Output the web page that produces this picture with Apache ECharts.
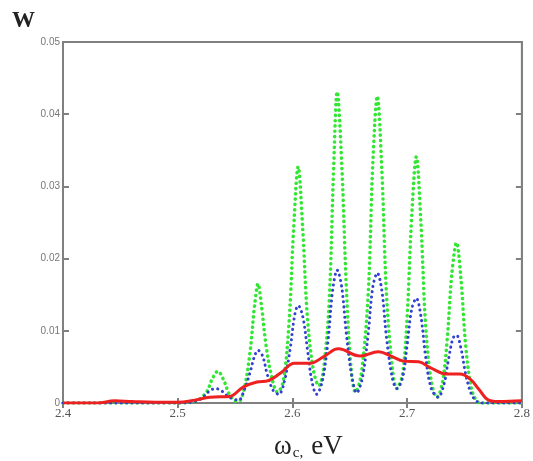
<!DOCTYPE html>
<html>
<head>
    <meta charset="utf-8">
    <title>W(omega)</title>
    <style>
        html, body { margin: 0; padding: 0; background: #fff; }
        #chart { width: 533px; height: 461px; }
    </style>
</head>
<body>
<div id="chart"></div>
<script src="https://cdn.jsdelivr.net/npm/echarts@6/dist/echarts.min.js"></script>
<script>
    // axis ticks
    var xTicks = [2.4, 2.5, 2.6, 2.7, 2.8];
    var yTicks = [0, 0.01, 0.02, 0.03, 0.04, 0.05];

    // green dotted curve
    var greenX = [2.40, 2.50, 2.515, 2.525, 2.530, 2.535, 2.540, 2.545, 2.550, 2.553, 2.558, 2.563, 2.567, 2.570, 2.573, 2.577, 2.582, 2.587,
        2.592, 2.597, 2.601, 2.605, 2.609, 2.613, 2.618, 2.623, 2.627, 2.632, 2.636, 2.639, 2.643, 2.647, 2.651, 2.655,
        2.660, 2.666, 2.670, 2.674, 2.678, 2.682, 2.687, 2.691, 2.696, 2.700, 2.704, 2.708, 2.712, 2.716, 2.721, 2.726,
        2.731, 2.735, 2.739, 2.743, 2.747, 2.751, 2.756, 2.761, 2.765, 2.80];
    var greenW = [0, 0, 0.0002, 0.0015, 0.0033, 0.0044, 0.0032, 0.0012, 0.0003, 0.0002, 0.002, 0.007, 0.0135, 0.0165, 0.0135, 0.008, 0.0035, 0.0015,
        0.003, 0.011, 0.024, 0.0327, 0.024, 0.012, 0.0048, 0.0024, 0.0045, 0.014, 0.033, 0.0431, 0.033, 0.016, 0.005, 0.0015,
        0.004, 0.015, 0.033, 0.0425, 0.032, 0.015, 0.005, 0.002, 0.004, 0.012, 0.026, 0.0341, 0.025, 0.011, 0.003, 0.0008,
        0.003, 0.009, 0.018, 0.0222, 0.017, 0.008, 0.002, 0.0002, 0, 0];

    // blue dotted curve
    var blueX = [2.40, 2.50, 2.515, 2.522, 2.528, 2.533, 2.538, 2.545, 2.553, 2.558, 2.563, 2.567, 2.570, 2.574, 2.578, 2.583, 2.588,
        2.593, 2.598, 2.602, 2.605, 2.609, 2.613, 2.617, 2.621, 2.626, 2.631, 2.635, 2.639, 2.643, 2.647, 2.652, 2.656,
        2.661, 2.666, 2.670, 2.674, 2.678, 2.682, 2.687, 2.691, 2.696, 2.700, 2.704, 2.708, 2.712, 2.716, 2.721, 2.727,
        2.732, 2.736, 2.740, 2.743, 2.747, 2.751, 2.756, 2.761, 2.765, 2.80];
    var blueW = [0, 0, 0.0002, 0.0008, 0.0017, 0.002, 0.0017, 0.0008, 0.0004, 0.0018, 0.0042, 0.0065, 0.0073, 0.0065, 0.004, 0.0018, 0.0012,
        0.003, 0.0075, 0.0122, 0.0135, 0.012, 0.0075, 0.003, 0.0012, 0.003, 0.0085, 0.0155, 0.0184, 0.016, 0.0095, 0.0035, 0.0014,
        0.0035, 0.0095, 0.016, 0.018, 0.0155, 0.009, 0.0035, 0.002, 0.0035, 0.008, 0.013, 0.0145, 0.012, 0.0065, 0.002, 0.0008,
        0.0025, 0.006, 0.009, 0.0094, 0.0075, 0.004, 0.0012, 0.0002, 0, 0];

    // red solid curve
    var redX = [2.40, 2.43, 2.445, 2.46, 2.48, 2.50, 2.515, 2.528, 2.545, 2.557, 2.569, 2.579, 2.59, 2.602, 2.615, 2.628, 2.64, 2.659,
        2.675, 2.686, 2.697, 2.71, 2.72, 2.735, 2.746, 2.755, 2.763, 2.771, 2.78, 2.80];
    var redW = [0, 0, 0.0003, 0.0002, 0.0001, 0.0001, 0.0004, 0.0008, 0.0009, 0.0022, 0.0029, 0.0031, 0.0042, 0.0055, 0.0055, 0.0065, 0.0075, 0.0065,
        0.0071, 0.0065, 0.0058, 0.0057, 0.0049, 0.004, 0.004, 0.0033, 0.0018, 0.0004, 0.0002, 0.0003];

    function pairs (xs, ys) {
        var out = [];
        for (var i = 0; i < xs.length; i++) {
            out.push([xs[i], ys[i]]);
        }
        return out;
    }

    var frameColor = '#808080';
    var chart = echarts.init(document.getElementById('chart'), null, {renderer: 'canvas'});

    chart.setOption({
        animation: false,
        backgroundColor: '#fff',
        grid: {
            left: 63, right: 11, top: 42, bottom: 58,
            show: true,
            borderColor: frameColor,
            borderWidth: 2
        },
        xAxis: [{
            type: 'value',
            min: xTicks[0],
            max: xTicks[xTicks.length - 1],
            interval: 0.1,
            position: 'bottom',
            axisLine: {show: true, lineStyle: {color: frameColor, width: 2}},
            axisTick: {show: true, inside: true, length: 5, lineStyle: {color: frameColor, width: 2}},
            splitLine: {show: false},
            axisLabel: {
                color: '#555',
                fontFamily: 'Liberation Serif',
                fontSize: 13,
                margin: 4,
                formatter: function (v) { return v.toFixed(1); }
            }
        }, {
            type: 'value',
            min: xTicks[0],
            max: xTicks[xTicks.length - 1],
            interval: 0.1,
            position: 'top',
            axisLine: {show: true, lineStyle: {color: frameColor, width: 2}},
            axisTick: {show: true, inside: true, length: 5, lineStyle: {color: frameColor, width: 2}},
            splitLine: {show: false},
            axisLabel: {show: false}
        }],
        yAxis: [{
            type: 'value',
            min: yTicks[0],
            max: yTicks[yTicks.length - 1],
            interval: 0.01,
            position: 'left',
            axisLine: {show: true, lineStyle: {color: frameColor, width: 2}},
            axisTick: {show: true, inside: true, length: 6, lineStyle: {color: frameColor, width: 2}},
            splitLine: {show: false},
            axisLabel: {
                color: '#777',
                fontFamily: 'Liberation Sans',
                fontSize: 10,
                margin: 3,
                formatter: function (v) { return v === 0 ? '0' : v.toFixed(2); }
            }
        }, {
            type: 'value',
            min: yTicks[0],
            max: yTicks[yTicks.length - 1],
            interval: 0.01,
            position: 'right',
            axisLine: {show: true, lineStyle: {color: frameColor, width: 2}},
            axisTick: {show: true, inside: true, length: 6, lineStyle: {color: frameColor, width: 2}},
            splitLine: {show: false},
            axisLabel: {show: false}
        }],
        graphic: [{
            type: 'text',
            left: 12,
            top: 10,
            style: {
                text: 'W',
                font: 'bold 23px "Liberation Serif"',
                fill: '#222'
            }
        }, {
            type: 'text',
            left: 274,
            top: 433,
            style: {
                text: '{w|ω}{s|c,}{e|eV}',
                fill: '#222',
                rich: {
                    w: {fontFamily: 'Liberation Serif', fontSize: 27, fill: '#222'},
                    s: {fontFamily: 'Liberation Serif', fontSize: 15, fill: '#222', padding: [14, 0, 0, 1]},
                    e: {fontFamily: 'Liberation Serif', fontSize: 27, fill: '#222', padding: [0, 0, 0, 8]}
                }
            }
        }],
        series: [{
            name: 'green',
            type: 'line',
            data: pairs(greenX, greenW),
            smooth: 0.35,
            showSymbol: false,
            lineStyle: {color: '#33e633', width: 3.6, type: [0.1, 5.2], cap: 'round'},
            z: 2
        }, {
            name: 'blue',
            type: 'line',
            data: pairs(blueX, blueW),
            smooth: 0.35,
            showSymbol: false,
            lineStyle: {color: '#3340d0', width: 3, type: [0.1, 5.2], cap: 'round'},
            z: 3
        }, {
            name: 'red',
            type: 'line',
            data: pairs(redX, redW),
            smooth: 0.4,
            showSymbol: false,
            lineStyle: {color: '#ee2020', width: 3},
            z: 4
        }]
    });
</script>
</body>
</html>
